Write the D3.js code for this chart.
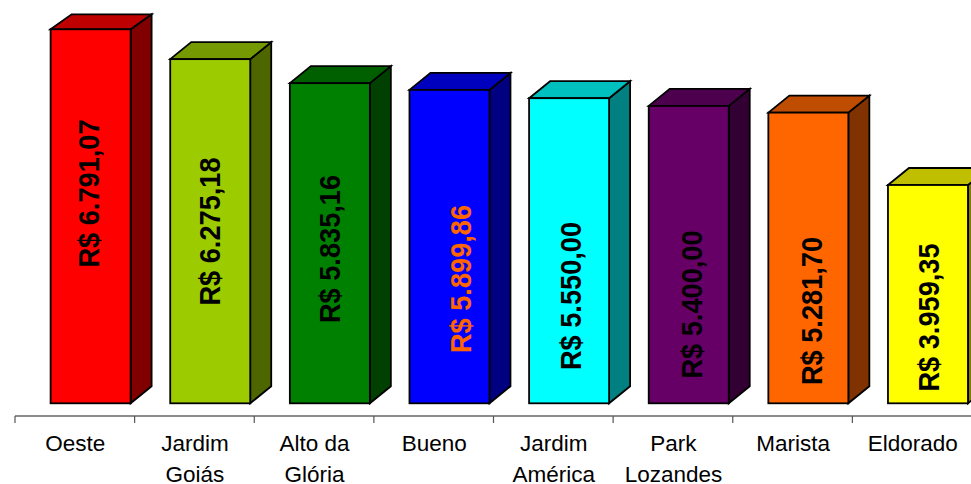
<!DOCTYPE html>
<html>
<head>
<meta charset="utf-8">
<script src="https://cdnjs.cloudflare.com/ajax/libs/d3/7.8.5/d3.min.js"></script>
<style>
  html, body { margin: 0; padding: 0; background: #fff; overflow: hidden; }
  svg { display: block; font-family: "Liberation Sans", Arial, sans-serif; }
</style>
</head>
<body>
<div id="chart"></div>
<script>
const bairros = ['Oeste', 'Jardim Goiás', 'Alto da Glória', 'Bueno', 'Jardim América', 'Park Lozandes', 'Marista', 'Eldorado']
// height of the bars as drawn; Bueno's bar is shorter than its printed label says
const valores = [6791, 6249, 5813, 5691, 5540, 5400, 5278, 3964]
const rotulos = ['R$ 6.791,07', 'R$ 6.275,18', 'R$ 5.835,16', 'R$ 5.899,86', 'R$ 5.550,00', 'R$ 5.400,00', 'R$ 5.281,70', 'R$ 3.959,35']
const cores = ['#ff0000', '#9ccc00', '#008000', '#0000ff', '#00ffff', '#660066', '#ff6600', '#ffff00']
const coresRotulo = ['#000', '#000', '#000', '#ff6600', '#000', '#000', '#000', '#000']

// hand placed labels, like in the original: centre of each label, in pixels
const rotuloX = [88.5, 210, 329.5, 461, 570.5, 692, 812, 929]
const rotuloY = [193.5, 231.5, 249, 279, 296, 304.5, 311, 317.5]

const width = 971, height = 484
const baseY = 403.3, eixoY = 416
const dx = 21, dy = 17, tetoY = 14.3, barW = 80, barOffset = 35.6

const svg = d3.select('#chart').append('svg')
  .attr('width', width)
  .attr('height', height)

const x = d3.scaleBand().domain(bairros).range([15, 972])
const y = d3.scaleLinear().domain([0, 6791]).range([baseY, 29.3])

const data = bairros.map((b, i) => ({ nome: b, valor: valores[i], cor: cores[i] }))

function escurece(cor, k) {
  const c = d3.rgb(cor)
  return d3.rgb(c.r * k, c.g * k, c.b * k).formatHex()
}

// the back edge can't go above the top of the plot
const fundo = t => Math.max(t - dy, tetoY)

const barras = svg.selectAll('g.barra')
  .data(data)
  .join('g')
    .attr('class', 'barra')
    .attr('stroke', '#000')
    .attr('stroke-width', 1.8)
    .attr('stroke-linejoin', 'miter')

// side
barras.append('path')
  .attr('fill', d => escurece(d.cor, 0.5))
  .attr('d', d => {
    const x1 = x(d.nome) + barOffset + barW, t = y(d.valor)
    return `M${x1},${t}L${x1 + dx},${fundo(t)}L${x1 + dx},${baseY - dy}L${x1},${baseY}Z`
  })

// top
barras.append('path')
  .attr('fill', d => escurece(d.cor, 0.75))
  .attr('d', d => {
    const x0 = x(d.nome) + barOffset, t = y(d.valor)
    return `M${x0},${t}L${x0 + dx},${fundo(t)}h${barW}L${x0 + barW},${t}Z`
  })

// front
barras.append('rect')
  .attr('x', d => x(d.nome) + barOffset)
  .attr('y', d => y(d.valor))
  .attr('width', barW)
  .attr('height', d => baseY - y(d.valor))
  .attr('fill', d => d.cor)

svg.selectAll('text.rotulo')
  .data(rotulos)
  .join('text')
    .attr('class', 'rotulo')
    .attr('transform', (d, i) => `translate(${rotuloX[i]},${rotuloY[i]}) rotate(-90)`)
    .attr('text-anchor', 'middle')
    .attr('dy', '0.358em')
    .attr('font-size', 29)
    .attr('font-weight', 'bold')
    .attr('textLength', 148)
    .attr('lengthAdjust', 'spacingAndGlyphs')
    .attr('fill', (d, i) => coresRotulo[i])
    .text(d => d)

// category axis, ticks sit between the bars
const ticks = [...bairros.map(b => x(b)), x.range()[1]]
svg.append('line')
  .attr('x1', 15).attr('x2', width)
  .attr('y1', eixoY).attr('y2', eixoY)
  .attr('stroke', '#666').attr('stroke-width', 1.5)

svg.selectAll('line.tick')
  .data(ticks)
  .join('line')
    .attr('class', 'tick')
    .attr('x1', d => d).attr('x2', d => d)
    .attr('y1', eixoY).attr('y2', eixoY + 7)
    .attr('stroke', '#555').attr('stroke-width', 1.2)

// two word names wrap on two lines
const nomes = svg.selectAll('text.nome')
  .data(bairros)
  .join('text')
    .attr('class', 'nome')
    .attr('text-anchor', 'middle')
    .attr('font-size', 22.5)
    .attr('fill', '#000')

nomes.selectAll('tspan')
  .data(d => {
    const p = d.split(' ')
    const linhas = p.length > 2 ? [p.slice(0, 2).join(' '), p[2]] : p
    return linhas.map(l => ({ l, b: d }))
  })
  .join('tspan')
    .attr('x', d => x(d.b) + x.bandwidth() / 2 + 0.5)
    .attr('y', (d, i) => 450.5 + i * 31.5)
    .text(d => d.l)
</script>
</body>
</html>
